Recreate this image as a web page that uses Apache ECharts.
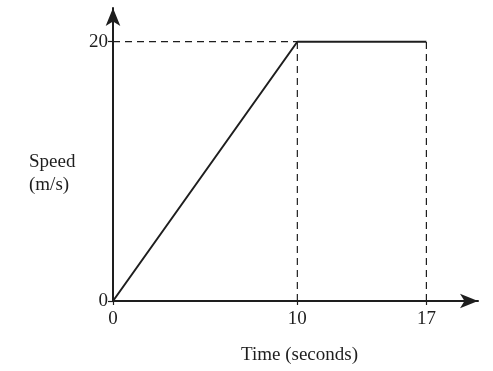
<!DOCTYPE html>
<html><head><meta charset="utf-8">
<script src="https://cdn.jsdelivr.net/npm/echarts@6/dist/echarts.min.js"></script>
<style>html,body{margin:0;padding:0;background:#fff}#c{width:493px;height:371px}</style>
</head><body><div id="c"></div>
<script>
var speedLine = [[0,0],[10,20],[17,20]];
var dashH = [[0,20],[10,20]];
var dashV1 = [[10,0],[10,20]];
var dashV2 = [[17,0],[17,20]];
var xTicks = [0,10,17];
var yTicks = [0,20];
var xName = 'Time (seconds)';
var yName = 'Speed\n(m/s)';

var font = '"Liberation Serif", "Times New Roman", serif';
var ink = '#1e1e1e';
var chart = echarts.init(document.getElementById('c'));
var dashStyle = {color: ink, width: 1.2, type: [7,5]};
chart.setOption({
  animation: false,
  backgroundColor: '#fff',
  grid: {left: 113, right: 15, top: 8, bottom: 70, containLabel: false},
  xAxis: {
    type: 'value', min: 0, max: 19.8,
    axisLine: {lineStyle: {color: ink, width: 2}, symbol: ['none','arrow'], symbolSize: [11,18]},
    axisTick: {show: true, length: 4, lineStyle: {color: ink, width: 1.2}, customValues: xTicks},
    axisLabel: {customValues: xTicks, color: ink, fontFamily: font, fontSize: 19, margin: 9},
    splitLine: {show: false}
  },
  yAxis: {
    type: 'value', min: 0, max: 22.6,
    axisLine: {lineStyle: {color: ink, width: 2}, symbol: ['none','arrow'], symbolSize: [11,18]},
    axisTick: {show: true, length: 5, lineStyle: {color: ink, width: 1.2}, customValues: yTicks},
    axisLabel: {customValues: yTicks, color: ink, fontFamily: font, fontSize: 19, margin: 5},
    splitLine: {show: false}
  },
  graphic: [
    {type: 'text', left: 29, top: 151, style: {text: yName, font: '19px ' + font, fill: ink, lineHeight: 23}},
    {type: 'text', left: 241, top: 346, style: {text: xName, font: '19px ' + font, fill: ink}}
  ],
  series: [
    {type: 'line', data: dashH, symbol: 'none', lineStyle: dashStyle, silent: true},
    {type: 'line', data: dashV1, symbol: 'none', lineStyle: dashStyle, silent: true},
    {type: 'line', data: dashV2, symbol: 'none', lineStyle: dashStyle, silent: true},
    {type: 'line', data: speedLine, symbol: 'none', lineStyle: {color: ink, width: 2}, silent: true, z: 5}
  ]
});
</script></body></html>
